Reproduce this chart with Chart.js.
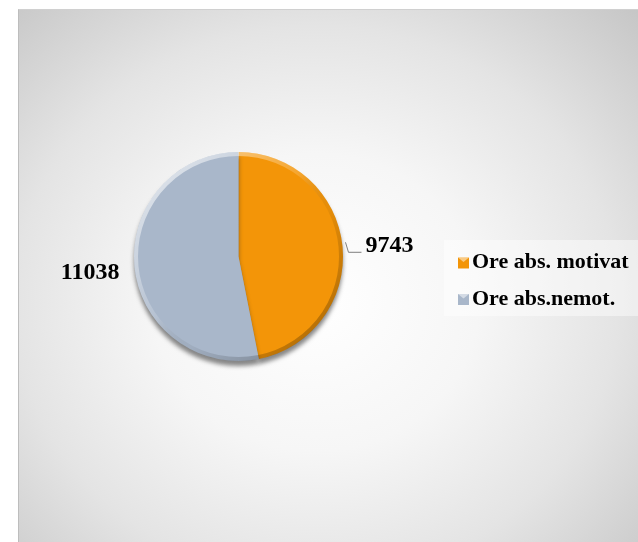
<!DOCTYPE html>
<html>
<head>
<meta charset="utf-8">
<script src="https://cdn.jsdelivr.net/npm/chart.js@4/dist/chart.umd.min.js"></script>
<style>
    html, body { margin: 0; padding: 0; background: #ffffff; }
    #wrap {
        position: absolute;
        left: 18px;
        top: 9px;
        width: 620px;
        height: 533px;
        border-left: 1px solid #bdbdbd;
        border-top: 1px solid #d0d0d0;
        box-sizing: border-box;
        background: radial-gradient(ellipse 75% 80% at 48% 55%, #ffffff 0%, #f6f6f6 35%, #e4e4e4 65%, #c4c4c4 100%);
    }
</style>
</head>
<body>
<div id="wrap"><canvas id="pie-chart"></canvas></div>
<script>
const categories = ['Ore abs. motivat', 'Ore abs.nemot.'];
const hours = [9743, 11038];
const sliceColors = ['#f39508', '#a9b7ca'];

// umbra si conturul luminos al feliilor (efect 3D)
const bevelPlugin = {
    id: 'bevel',
    beforeDatasetsDraw(chart) {
        const ctx = chart.ctx;
        ctx.save();
        ctx.shadowColor = 'rgba(40, 40, 40, 0.55)';
        ctx.shadowOffsetY = 5;
        ctx.shadowBlur = 4;
    },
    afterDatasetsDraw(chart) {
        const ctx = chart.ctx;
        ctx.restore();
        const arc = chart.getDatasetMeta(0).data[0];
        const cx = arc.x, cy = arc.y, r = arc.outerRadius;
        const g = ctx.createLinearGradient(cx - r, cy - r, cx + r, cy + r);
        g.addColorStop(0, 'rgba(255, 255, 255, 0.75)');
        g.addColorStop(0.45, 'rgba(255, 255, 255, 0.15)');
        g.addColorStop(0.6, 'rgba(0, 0, 0, 0.05)');
        g.addColorStop(1, 'rgba(0, 0, 0, 0.35)');
        ctx.save();
        ctx.beginPath();
        ctx.arc(cx, cy, r - 2, 0, Math.PI * 2);
        ctx.strokeStyle = g;
        ctx.lineWidth = 4;
        ctx.stroke();
        ctx.restore();
    }
};

// etichete cu valori si legenda
const labelPlugin = {
    id: 'valueLabels',
    afterDraw(chart) {
        const ctx = chart.ctx;
        const meta = chart.getDatasetMeta(0);
        ctx.save();
        ctx.font = 'bold 24px "Liberation Serif"';
        ctx.fillStyle = '#000000';
        ctx.textBaseline = 'alphabetic';
        meta.data.forEach((arc, i) => {
            const mid = (arc.startAngle + arc.endAngle) / 2;
            const ex = arc.x + Math.cos(mid) * arc.outerRadius;
            const ey = arc.y + Math.sin(mid) * arc.outerRadius;
            const text = String(chart.data.datasets[0].data[i]);
            if (Math.cos(mid) >= 0) {
                ctx.beginPath();
                ctx.moveTo(ex + 3, ey - 4);
                ctx.lineTo(ex + 6, ey + 6);
                ctx.lineTo(ex + 19, ey + 6);
                ctx.strokeStyle = '#7f7f7f';
                ctx.lineWidth = 1;
                ctx.stroke();
                ctx.textAlign = 'left';
                ctx.fillText(text, ex + 23, ey + 6);
            } else {
                ctx.textAlign = 'right';
                ctx.fillText(text, ex - 15, ey + 12);
            }
        });

        // legenda
        ctx.fillStyle = 'rgba(255, 255, 255, 0.45)';
        ctx.fillRect(425, 230, 195, 76);
        ctx.font = 'bold 22px "Liberation Serif"';
        ctx.textAlign = 'left';
        ctx.textBaseline = 'alphabetic';
        chart.data.labels.forEach((lab, i) => {
            const base = 258 + i * 36.5;
            const col = chart.data.datasets[0].backgroundColor[i];
            ctx.fillStyle = col;
            ctx.fillRect(439, base - 10.5, 11, 11);
            ctx.fillStyle = 'rgba(255,255,255,0.5)';
            ctx.beginPath();
            ctx.moveTo(439, base - 10.5);
            ctx.lineTo(444.5, base - 6);
            ctx.lineTo(450, base - 10.5);
            ctx.closePath();
            ctx.fill();
            ctx.fillStyle = '#000000';
            ctx.fillText(lab, 453, base);
        });
        ctx.restore();
    }
};

const ctx = document.getElementById('pie-chart').getContext('2d');
new Chart(ctx, {
    type: 'pie',
    data: {
        labels: categories,
        datasets: [{
            data: hours,
            backgroundColor: sliceColors,
            borderWidth: 0,
            hoverOffset: 0
        }]
    },
    options: {
        responsive: true,
        maintainAspectRatio: false,
        animation: false,
        layout: {
            padding: { left: 115, right: 295, top: 142, bottom: 181 }
        },
        plugins: {
            legend: { display: false },
            tooltip: { enabled: false }
        }
    },
    plugins: [bevelPlugin, labelPlugin]
});
</script>
</body>
</html>
